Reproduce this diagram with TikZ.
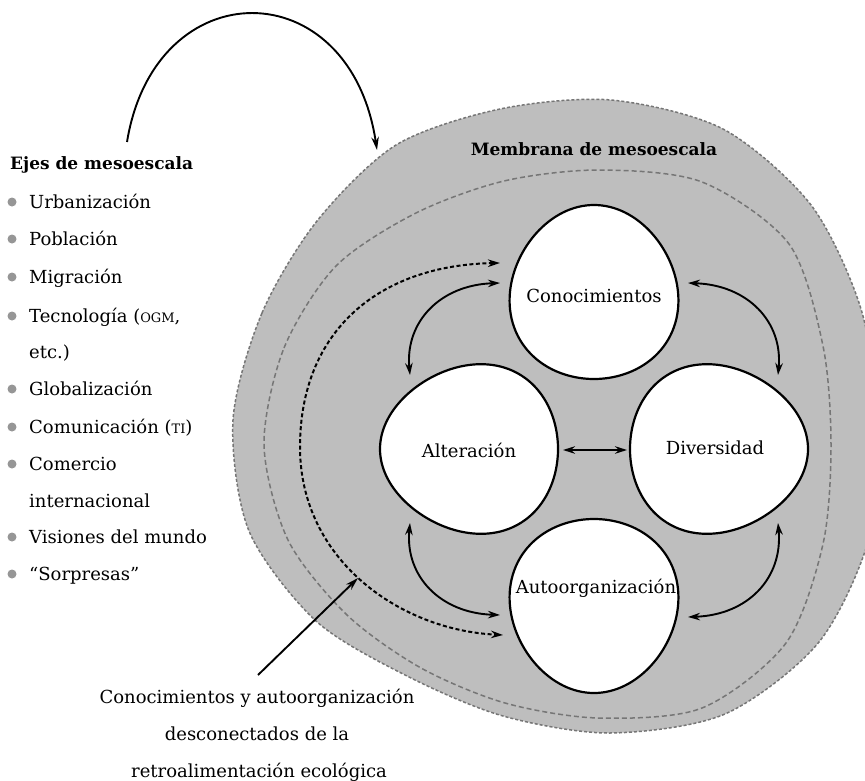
\documentclass[tikz,border=0pt]{standalone}
\usepackage{fontspec}
\setmainfont{DejaVu Serif}
\usetikzlibrary{arrows.meta}
\definecolor{memgrey}{RGB}{190,190,190}
\definecolor{dashgrey}{RGB}{118,118,118}
\definecolor{bulgrey}{RGB}{150,150,150}
\newcommand{\fakesc}[1]{{\fontsize{13}{15}\selectfont #1}}
\tikzset{
  every node/.style={font=\fontsize{18}{21}\selectfont, inner sep=0pt},
  blob/.style={draw=black, line width=2.2pt, fill=white},
  membrane/.style={fill=memgrey, draw=dashgrey, line width=1.5pt, dash pattern=on 3pt off 2pt},
  innerdash/.style={draw=dashgrey, line width=1.5pt, dash pattern=on 5pt off 3pt},
  link/.style={line width=1.9pt, {Stealth[length=12pt,width=7.5pt]}-{Stealth[length=12pt,width=7.5pt]}},
  feedback/.style={line width=2pt, dash pattern=on 4pt off 2.5pt, {Stealth[length=12pt,width=7.5pt]}-{Stealth[length=12pt,width=7.5pt]}},
  oneway/.style={line width=1.9pt, -{Stealth[length=13pt,width=7.5pt]}},
  bul/.style={circle, fill=bulgrey, minimum size=9pt},
  itemtext/.style={anchor=base west},
  lab/.style={anchor=base},
  boldlab/.style={font=\fontsize{17}{20}\selectfont\bfseries},
}
\begin{document}
\begin{tikzpicture}[x=1pt,y=-1pt]
\useasboundingbox (0,0) rectangle (865,781);
% membrane
\begin{scope}
\clip (0,0) rectangle (865,781);
\draw[membrane] plot[smooth cycle] coordinates {
 (233,420) (262,313) (317,221) (396,145) (500,109) (611,100) (723,129)
 (811,205) (861,309) (877,420) (870,535) (819,642) (725,714) (610,733)
 (503,716) (407,676) (316,621) (249,531)};
\draw[innerdash] plot[smooth cycle] coordinates {
 (264,445) (284,348) (336,266) (416,213) (504,181) (599,170) (702,182)
 (789,244) (823,346) (831,445) (823,544) (786,643) (702,708) (598,718)
 (505,703) (421,668) (347,615) (288,540)};
\end{scope}
% four blobs
\draw[blob] plot[domain=0:360, samples=121, smooth]
  ({594+84*cos(\x)*(1+0.1*sin(\x))},{292+87*sin(\x)}) -- cycle;
\draw[blob] plot[domain=0:360, samples=121, smooth]
  ({594+84*cos(\x)*(1-0.1*sin(\x))},{606+87*sin(\x)}) -- cycle;
\draw[blob] plot[domain=0:360, samples=121, smooth]
  ({469+89*cos(\x)},{449+84*sin(\x)*(1+0.14*cos(\x))}) -- cycle;
\draw[blob] plot[domain=0:360, samples=121, smooth]
  ({719+89*cos(\x)},{449+84*sin(\x)*(1-0.14*cos(\x))}) -- cycle;
% labels of blobs
\node[lab] (con) at (594,302) {Conocimientos};
\node[lab] (alt) at (469,457) {Alteración};
\node[lab] (div) at (715,454) {Diversidad};
\node[lab] (aut) at (596,593) {Autoorganización};
\node[lab, boldlab] (mem) at (594,156) {Membrana de mesoescala};
% connector end points
\coordinate (cA1) at (410,375); \coordinate (cC1) at (500,283);
\coordinate (cD1) at (778,375); \coordinate (cC2) at (688,283);
\coordinate (cA2) at (410,523); \coordinate (cU1) at (500,615);
\coordinate (cD2) at (778,523); \coordinate (cU2) at (688,617);
\coordinate (cA3) at (563,450); \coordinate (cD3) at (627,450);
\coordinate (fbT) at (500,263); \coordinate (fbM) at (300,447); \coordinate (fbB) at (503,635);
\coordinate (arcS) at (127,142); \coordinate (arcE) at (377,150);
\coordinate (ptrS) at (258,675); \coordinate (ptrE) at (358,578);
% connectors
\draw[link] (cA1) .. controls (405,322) and (440,285) .. (cC1);
\draw[link] (cD1) .. controls (783,322) and (748,285) .. (cC2);
\draw[link] (cA2) .. controls (405,576) and (440,613) .. (cU1);
\draw[link] (cD2) .. controls (783,578) and (748,615) .. (cU2);
\draw[link] (cA3) -- (cD3);
\draw[feedback] (fbT) .. controls (380,265) and (300,330) .. (fbM)
  .. controls (300,560) and (400,630) .. (fbB);
\draw[oneway] (arcS) .. controls (155,-30) and (350,-30) .. (arcE);
\draw[oneway] (ptrS) -- (ptrE);
% left list
\node[itemtext, boldlab] (title) at (10,170) {Ejes de mesoescala};
\foreach \y/\t/\b [count=\k] in {
  208/Urbanización/1, 245/Población/1, 283/Migración/1,
  322/{Tecnología (\fakesc{OGM},}/1, 358/{etc.)}/0, 395/Globalización/1,
  433/{Comunicación (\fakesc{TI})}/1, 470/Comercio/1, 507/internacional/0,
  543/Visiones del mundo/1, 580/{“Sorpresas”}/1} {
  \node[itemtext] (it\k) at (29,\y) {\t};
  \ifnum\b=1 \node[bul] (bu\k) at (12,\y-6) {}; \fi
}
% bottom note
\node[lab] (n1) at (257,703) {Conocimientos y autoorganización};
\node[lab] (n2) at (257,740) {desconectados de la};
\node[lab] (n3) at (259,777) {retroalimentación ecológica};
\end{tikzpicture}
\end{document}
